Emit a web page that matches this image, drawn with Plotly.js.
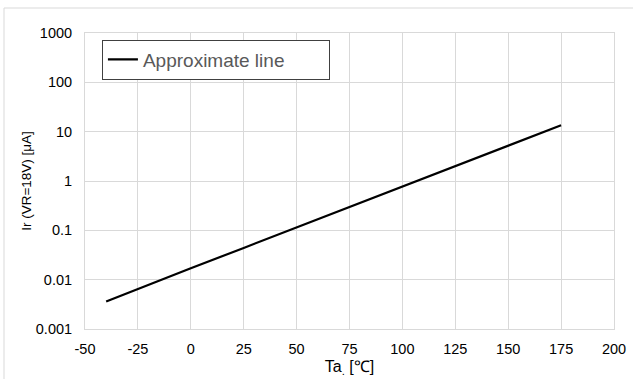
<!DOCTYPE html>
<html>
<head>
<meta charset="utf-8">
<script src="https://cdn.plot.ly/plotly-3.0.1.min.js"></script>
<style>html,body{margin:0;padding:0;background:#fff;}#chart{width:633px;height:379px;}</style>
</head>
<body>
<div id="chart"></div>
<script>
const temperature = [-40, -25, 0, 25, 50, 75, 100, 125, 150, 175];
const leakageCurrent = [0.0036, 0.0065, 0.017, 0.044, 0.115, 0.30, 0.78, 2.0, 5.2, 13.5];
const seriesName = 'Approximate line';
const xTicks = [-50, -25, 0, 25, 50, 75, 100, 125, 150, 175, 200];
const xTickText = ['-50', '-25', '0', '25', '50', '75', '100', '125', '150', '175', '200'];
const yTicks = [0.001, 0.01, 0.1, 1, 10, 100, 1000];
const yTickText = ['0.001', '0.01', '0.1', '1', '10', '100', '1000'];

const font = 'Liberation Sans, Arial, sans-serif';
const grid = '#d9d9d9';

Plotly.newPlot('chart', [{
  x: temperature,
  y: leakageCurrent,
  type: 'scatter',
  mode: 'lines',
  name: seriesName,
  line: {color: '#000000', width: 2.2},
  showlegend: true
}], {
  width: 633, height: 379,
  margin: {l: 85, r: 19, t: 33, b: 50},
  paper_bgcolor: '#ffffff', plot_bgcolor: '#ffffff',
  font: {family: font, color: '#000000', size: 14.5},
  showlegend: true,
  legend: {
    orientation: 'h',
    x: 0.032, y: 0.978, xanchor: 'left', yanchor: 'top',
    bordercolor: '#404040', borderwidth: 1, bgcolor: '#ffffff',
    font: {family: font, size: 19, color: '#595959'},
    entrywidth: 181, itemwidth: 30
  },
  xaxis: {
    range: [-50, 200], tickvals: xTicks, ticktext: xTickText, ticks: '', ticklabelstandoff: 7,
    showgrid: true, gridcolor: grid, gridwidth: 1,
    zeroline: false, showline: true, linecolor: grid, mirror: true,
    tickfont: {family: font, size: 14.5, color: '#000000'},
    title: {text: 'Ta<sub>.</sub> [℃]', font: {family: font, size: 16, color: '#000000'}, standoff: 4}
  },
  yaxis: {
    type: 'log', range: [-3, 3], tickvals: yTicks, ticktext: yTickText, ticks: '', ticklabelstandoff: 9,
    showgrid: true, gridcolor: grid, gridwidth: 1,
    zeroline: false, showline: true, linecolor: grid, mirror: true,
    tickfont: {family: font, size: 14.5, color: '#000000'},
    title: {text: 'Ir (VR=18V) [μA]', font: {family: font, size: 13.5, color: '#000000'}, standoff: 1}
  },
  shapes: [
    {type: 'line', xref: 'paper', yref: 'paper', x0: (4 - 85) / 529, x1: (640 - 85) / 529, y0: (329 - 8) / 296, y1: (329 - 8) / 296, line: {color: '#d9d9d9', width: 1}},
    {type: 'line', xref: 'paper', yref: 'paper', x0: (4 - 85) / 529, x1: (4 - 85) / 529, y0: (329 - 8) / 296, y1: (329 - 390) / 296, line: {color: '#d9d9d9', width: 1}}
  ]
}, {displayModeBar: false, staticPlot: true});
</script>
</body>
</html>
